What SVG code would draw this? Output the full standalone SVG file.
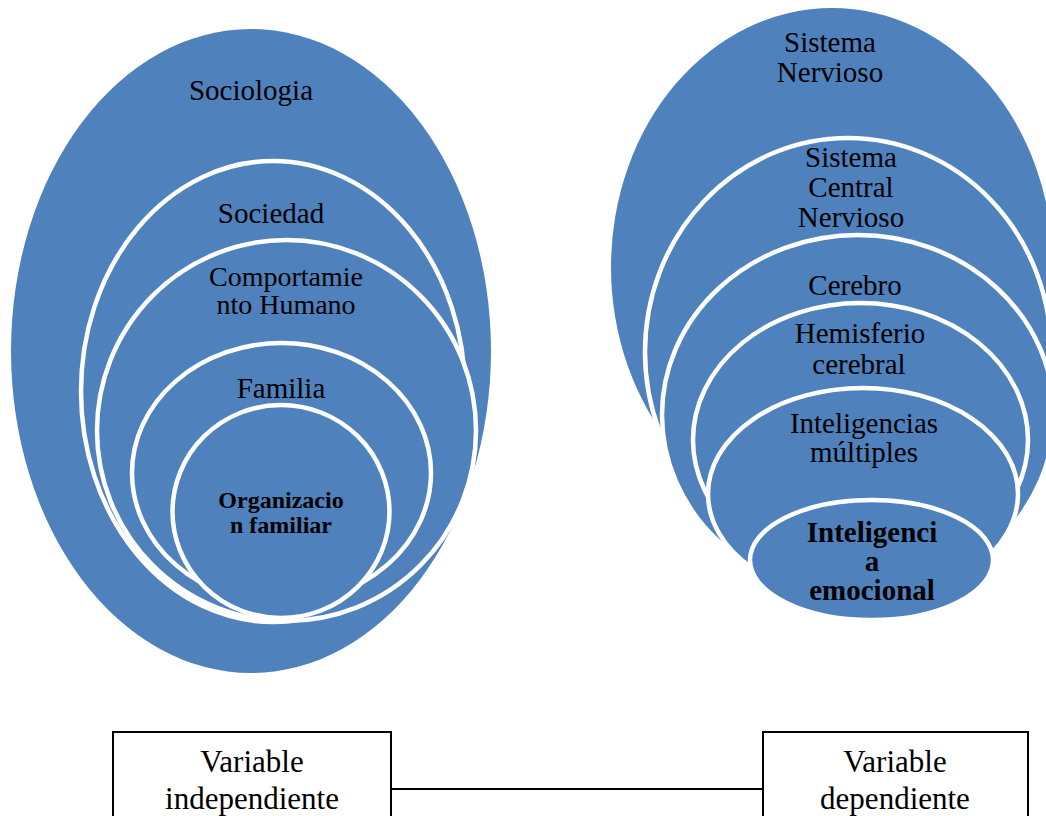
<svg xmlns="http://www.w3.org/2000/svg" width="1046" height="816" viewBox="0 0 1046 816">
  <style>
    .blob { fill: #4F81BD; }
    .ring { fill: #4F81BD; stroke: #FFFFFF; stroke-width: 4.5; }
    .t { font-family: "Liberation Serif", "Times New Roman", serif; fill: #000000; text-anchor: middle; font-size: 29px; }
    .t28 { font-size: 28px; }
    .b24 { font-weight: bold; font-size: 24px; }
    .b29 { font-weight: bold; font-size: 29px; }
    .bt { font-size: 31px; }
    .box { fill: #FFFFFF; stroke: #000000; stroke-width: 2; }
    .conn { stroke: #000000; stroke-width: 2; fill: none; }
  </style>
  <rect x="0" y="0" width="1046" height="816" fill="#FFFFFF"/>

  <!-- Left nested diagram -->
  <g id="sociologia">
    <ellipse class="blob" cx="251" cy="351" rx="240" ry="322"/>
    <text class="t" x="251" y="100">Sociologia</text>
  </g>
  <g id="sociedad">
    <ellipse class="ring" cx="273" cy="391.5" rx="192" ry="230.5"/>
    <text class="t" x="271" y="223">Sociedad</text>
  </g>
  <g id="comportamiento">
    <ellipse class="ring" cx="286.5" cy="430.5" rx="189.5" ry="190.5"/>
    <text class="t t28" x="286" y="286">Comportamie</text>
    <text class="t t28" x="286" y="314">nto Humano</text>
  </g>
  <g id="familia">
    <ellipse class="ring" cx="281.5" cy="473" rx="149.5" ry="130"/>
    <text class="t" x="281" y="398">Familia</text>
  </g>
  <g id="organizacion">
    <ellipse class="ring" cx="281" cy="511.5" rx="108.5" ry="106.5"/>
    <text class="t b24" x="281" y="508">Organizacio</text>
    <text class="t b24" x="281" y="533">n familiar</text>
  </g>

  <!-- Right nested diagram -->
  <g id="sistema-nervioso">
    <ellipse class="blob" cx="832" cy="267" rx="221" ry="259"/>
    <text class="t" x="830" y="52">Sistema</text>
    <text class="t" x="830" y="82">Nervioso</text>
  </g>
  <g id="sistema-central">
    <ellipse class="ring" cx="848" cy="352" rx="203" ry="214"/>
    <text class="t" x="851" y="167">Sistema</text>
    <text class="t" x="851" y="197">Central</text>
    <text class="t" x="851" y="227">Nervioso</text>
  </g>
  <g id="cerebro">
    <ellipse class="ring" cx="858" cy="415" rx="196" ry="180"/>
    <text class="t" x="855" y="295">Cerebro</text>
  </g>
  <g id="hemisferio">
    <ellipse class="ring" cx="860.5" cy="440" rx="167.5" ry="137"/>
    <text class="t" x="860" y="343">Hemisferio</text>
    <text class="t" x="859" y="374">cerebral</text>
  </g>
  <g id="inteligencias">
    <ellipse class="ring" cx="863" cy="494" rx="155" ry="106"/>
    <text class="t" x="864" y="433">Inteligencias</text>
    <text class="t" x="864" y="462">múltiples</text>
  </g>
  <g id="inteligencia-emocional">
    <ellipse class="ring" cx="871.5" cy="560" rx="121.5" ry="60"/>
    <text class="t b29" x="872" y="542">Inteligenci</text>
    <text class="t b29" x="872" y="571">a</text>
    <text class="t b29" x="872" y="600">emocional</text>
  </g>

  <!-- Connectors -->
  <g id="connectors">
    <line class="conn" x1="391" y1="789" x2="763" y2="789"/>
  </g>

  <!-- Bottom boxes -->
  <g id="variable-independiente">
    <rect class="box" x="113" y="732" width="278" height="100"/>
    <text class="t bt" x="252" y="772">Variable</text>
    <text class="t bt" x="252" y="809">independiente</text>
  </g>
  <g id="variable-dependiente">
    <rect class="box" x="763" y="732" width="265" height="100"/>
    <text class="t bt" x="895" y="772">Variable</text>
    <text class="t bt" x="895" y="809">dependiente</text>
  </g>
</svg>
